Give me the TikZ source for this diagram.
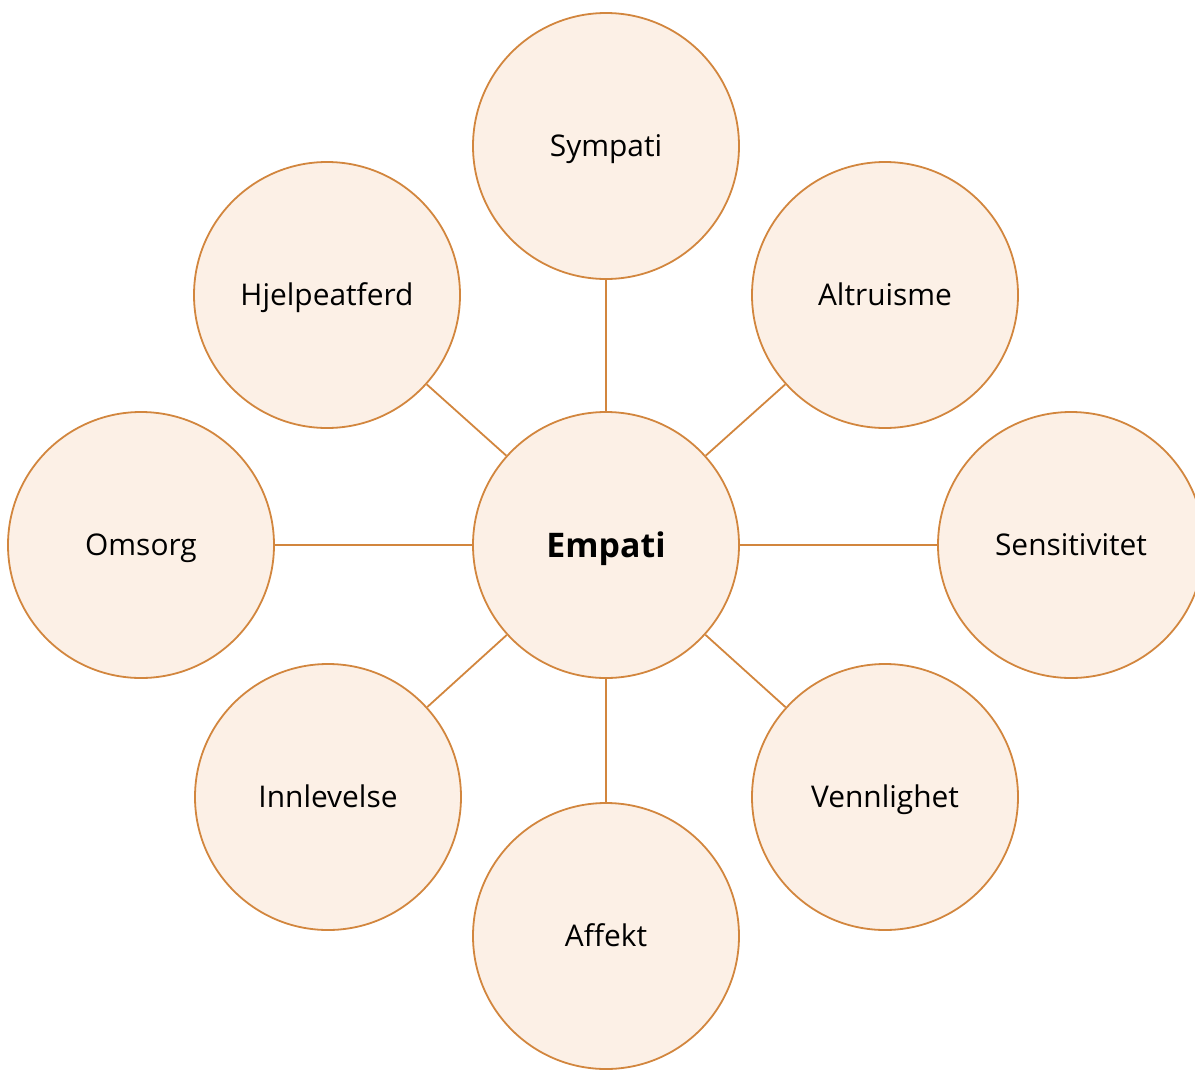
\documentclass[tikz,border=0pt]{standalone}
\usepackage{fontspec}
\setmainfont{Open Sans}
\definecolor{strokecol}{RGB}{210,134,62}
\definecolor{fillcol}{RGB}{252,240,230}
\tikzset{
  concept/.style={circle,draw=strokecol,fill=fillcol,minimum size=266bp,inner sep=0pt,
    text height=21.5bp,text depth=0pt,font=\fontsize{30}{36}\selectfont},
  core/.style={concept,text height=24.5bp,font=\fontsize{34}{40}\selectfont\bfseries},
  link/.style={draw=strokecol},
}
\begin{document}
\begin{tikzpicture}[x=1bp,y=-1bp,line join=bevel]
  \pgfsetlinewidth{1.8bp}
  \useasboundingbox (0,0) rectangle (1195,1070);
%%
  % Node: Empati
  \node [core] (Empati) at (606,545) {Empati};
  % Node: Sympati
  \node [concept] (Sympati) at (606,146) {Sympati};
  % Node: Altruisme
  \node [concept] (Altruisme) at (885,295) {Altruisme};
  % Node: Sensitivitet
  \node [concept] (Sensitivitet) at (1071,545) {Sensitivitet};
  % Node: Vennlighet
  \node [concept] (Vennlighet) at (885,797) {Vennlighet};
  % Node: Affekt
  \node [concept] (Affekt) at (606,936) {Affekt};
  % Node: Innlevelse
  \node [concept] (Innlevelse) at (328,797) {Innlevelse};
  % Node: Omsorg
  \node [concept] (Omsorg) at (141,545) {Omsorg};
  % Node: Hjelpeatferd
  \node [concept] (Hjelpeatferd) at (327,295) {Hjelpeatferd};
  % Edge: Empati -- Sympati
  \draw [link] (Empati) -- (Sympati);
  % Edge: Empati -- Altruisme
  \draw [link] (Empati) -- (Altruisme);
  % Edge: Empati -- Sensitivitet
  \draw [link] (Empati.east) -- (Sensitivitet.west);
  % Edge: Empati -- Vennlighet
  \draw [link] (Empati) -- (Vennlighet);
  % Edge: Empati -- Affekt
  \draw [link] (Empati) -- (Affekt);
  % Edge: Empati -- Innlevelse
  \draw [link] (Empati) -- (Innlevelse);
  % Edge: Empati -- Omsorg
  \draw [link] (Empati.west) -- (Omsorg.east);
  % Edge: Empati -- Hjelpeatferd
  \draw [link] (Empati) -- (Hjelpeatferd);
%
\end{tikzpicture}
\end{document}
